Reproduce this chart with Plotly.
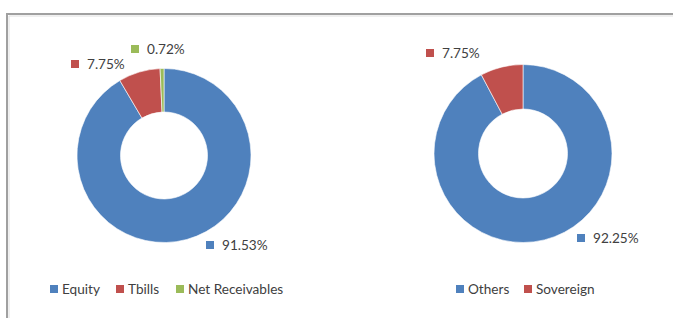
import plotly.graph_objects as go

W, H = 673, 318

# Data
left_labels = ["Equity", "Tbills", "Net Receivables"]
left_values = [91.53, 7.75, 0.72]
right_labels = ["Others", "Sovereign"]
right_values = [92.25, 7.75]
left_colors = ["#4f81bd", "#c0504d", "#9bbb59"]
right_colors = ["#4f81bd", "#c0504d"]

# data label anchors (pixels: square left x, center y) per slice
left_label_pos = [(206, 245), (71, 64), (131, 49)]
right_label_pos = [(577, 238), (426, 53)]
# legend item square left x (pixels), legend row center y
left_legend_x = [50, 116, 176]
right_legend_x = [456, 524]
legend_y = 289

FONT = "Lato, Open Sans, sans-serif"
TXT = "#404040"


def px(x):
    return x / W


def py(y):
    return 1 - y / H


fig = go.Figure()
fig.add_trace(go.Pie(
    labels=left_labels, values=left_values, hole=0.5, sort=False,
    direction="clockwise", rotation=0,
    marker=dict(colors=left_colors, line=dict(color="white", width=0.6)),
    textinfo="none", hoverinfo="label+percent",
    domain=dict(x=[px(77), px(251)], y=[py(243), py(68)]),
))
fig.add_trace(go.Pie(
    labels=right_labels, values=right_values, hole=0.5, sort=False,
    direction="clockwise", rotation=0,
    marker=dict(colors=right_colors, line=dict(color="white", width=0.6)),
    textinfo="none", hoverinfo="label+percent",
    domain=dict(x=[px(434), px(612)], y=[py(243), py(64)]),
))

shapes = []
annotations = []


def square(x, y, c):
    shapes.append(dict(type="rect", xref="paper", yref="paper",
                       x0=px(x), x1=px(x + 8), y0=py(y + 4), y1=py(y - 4),
                       fillcolor=c, line=dict(width=0)))


def text(x, y, t):
    annotations.append(dict(text=t, xref="paper", yref="paper",
                            x=px(x), y=py(y), xanchor="left", yanchor="middle",
                            showarrow=False, borderpad=0,
                            font=dict(family=FONT, size=13.6, color=TXT)))


# data labels
for vals, cols, poss in [(left_values, left_colors, left_label_pos),
                         (right_values, right_colors, right_label_pos)]:
    for v, c, (x, y) in zip(vals, cols, poss):
        square(x, y, c)
        text(x + 15, y, f"{v:.2f}%")

# legends
for labs, cols, xs in [(left_labels, left_colors, left_legend_x),
                       (right_labels, right_colors, right_legend_x)]:
    for lab, c, x in zip(labs, cols, xs):
        square(x, legend_y, c)
        text(x + 11, legend_y, lab)

# outer frame
shapes.append(dict(type="rect", xref="paper", yref="paper",
                   x0=px(7), x1=px(720), y0=py(360), y1=py(14),
                   line=dict(color="#a0a0a0", width=2), fillcolor="rgba(0,0,0,0)"))
shapes.append(dict(type="rect", xref="paper", yref="paper",
                   x0=px(9), x1=px(720), y0=py(360), y1=py(16),
                   line=dict(color="#e0e0e0", width=1), fillcolor="rgba(0,0,0,0)"))

fig.update_layout(
    width=W, height=H,
    margin=dict(l=0, r=0, t=0, b=0),
    paper_bgcolor="white", plot_bgcolor="white",
    showlegend=False,
    shapes=shapes,
    annotations=annotations,
)

fig.write_html("out.html", config={"displayModeBar": False},
               post_script="document.body.style.margin='0';document.body.style.overflow='hidden';")
